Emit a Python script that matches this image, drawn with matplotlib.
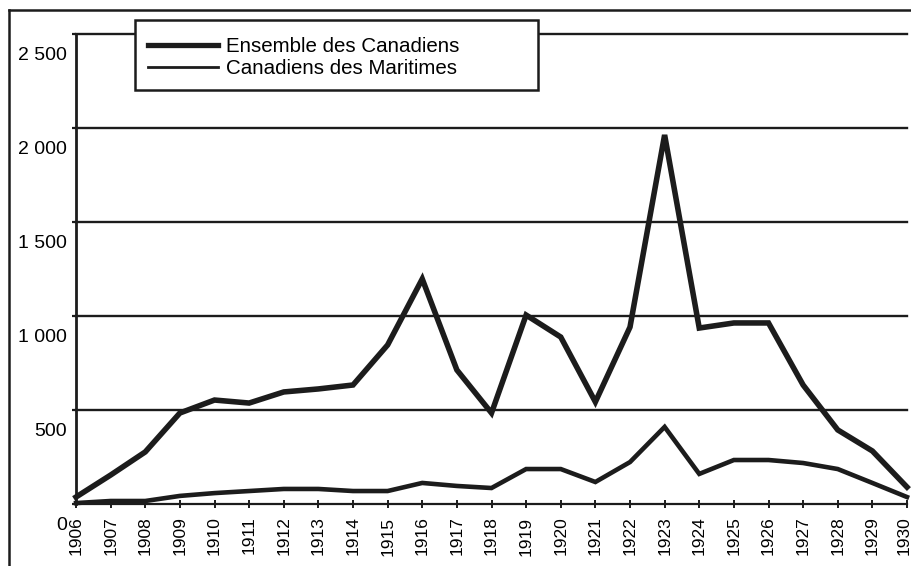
import matplotlib
matplotlib.use("Agg")
import matplotlib.pyplot as plt
import matplotlib.transforms as mtransforms
from matplotlib.lines import Line2D
from matplotlib.patches import Rectangle

# ---- data ----
years = list(range(1906, 1931))
ensemble = [37, 154, 277, 484, 553, 537, 596, 612, 633, 846, 1197, 713, 484,
            1005, 888, 543, 941, 1963, 936, 963, 963, 633, 394, 282, 90]
maritimes = [5, 16, 16, 43, 58, 69, 80, 80, 69, 69, 112, 96, 85,
             186, 186, 117, 223, 410, 160, 234, 234, 218, 186, 112, 37]
y_ticks = [0, 500, 1000, 1500, 2000, 2500]
y_tick_labels = ["0", "500", "1 000", "1 500", "2 000", "2 500"]
series_labels = ["Ensemble des Canadiens", "Canadiens des Maritimes"]

plt.rcParams['font.family'] = ['Liberation Sans', 'DejaVu Sans']

W, H = 912, 566
fig = plt.figure(figsize=(W / 100, H / 100), dpi=100)
ax = fig.add_axes([76 / W, (H - 504) / H, 831 / W, 470 / H])

ink = "#1c1c1c"

for y in y_ticks[1:]:
    ax.axhline(y, color=ink, lw=1.7, zorder=1, clip_on=False)

ax.plot(years, ensemble, color=ink, lw=4.0, solid_joinstyle='miter', zorder=3, clip_on=False)
ax.plot(years, maritimes, color=ink, lw=3.3, solid_joinstyle='miter', zorder=3, clip_on=False)

ax.set_xlim(1906, 1930)
ax.set_ylim(0, 2500)

ax.set_xticks(years)
ax.set_xticklabels([str(y) for y in years], rotation=90, fontsize=12.5)
ax.set_yticks(y_ticks)
ax.set_yticklabels(y_tick_labels, fontsize=14)

for s in ["top", "right"]:
    ax.spines[s].set_visible(False)
ax.spines["left"].set_linewidth(2.0)
ax.spines["left"].set_color(ink)
ax.spines["bottom"].set_linewidth(1.6)
ax.spines["bottom"].set_color(ink)

ax.tick_params(axis='y', direction='out', length=3, width=1.6, color=ink, pad=3.5)
ax.tick_params(axis='x', direction='inout', length=6, width=1.4, color=ink, pad=6)

offset = mtransforms.ScaledTranslation(0, -0.19, fig.dpi_scale_trans)
for lab in ax.get_yticklabels():
    lab.set_transform(lab.get_transform() + offset)
# keep the last year label inside the picture
last = ax.get_xticklabels()[-1]
last.set_transform(last.get_transform() +
                   mtransforms.ScaledTranslation(-0.03, 0, fig.dpi_scale_trans))

# legend box
fig.add_artist(Rectangle((135 / W, 1 - 90 / H), 403 / W, 70 / H,
                         transform=fig.transFigure, facecolor="white",
                         edgecolor=ink, lw=1.8, zorder=4))
handles = [Line2D([], [], color=ink, lw=3.8), Line2D([], [], color=ink, lw=2.0)]
leg = ax.legend(handles, series_labels, loc='upper left',
                bbox_to_anchor=(136 / W, 1 - 25 / H),
                bbox_transform=fig.transFigure,
                fontsize=14.8, handlelength=3.4, handletextpad=0.4,
                labelspacing=0.15, borderpad=0.6, borderaxespad=0,
                frameon=False)
leg.set_zorder(6)
fig.add_artist(leg)

# outer frame
fig.add_artist(Line2D([9 / W, 9 / W], [0, 1 - 10 / H], transform=fig.transFigure,
                      color=ink, lw=1.8))
fig.add_artist(Line2D([9 / W, 1], [1 - 10 / H, 1 - 10 / H], transform=fig.transFigure,
                      color=ink, lw=1.8))

fig.savefig("out.png", dpi=100)
